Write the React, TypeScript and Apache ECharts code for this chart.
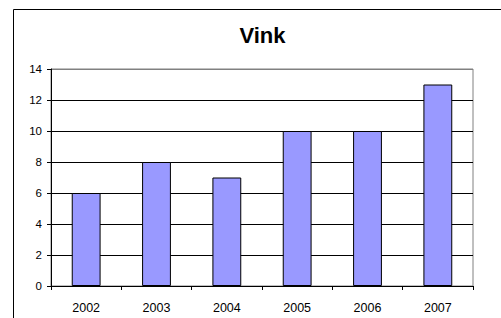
import React, { useEffect, useRef } from "react";
import * as echarts from "echarts";

const categories = ["2002", "2003", "2004", "2005", "2006", "2007"];
const values = [6, 8, 7, 10, 10, 13];
const titleText = "Vink";

const FONT = "'Liberation Sans', Arial, sans-serif";

export default function App() {
  const ref = useRef<HTMLDivElement>(null);
  useEffect(() => {
    if (!ref.current) return;
    const chart = echarts.init(ref.current, null, { renderer: "svg" });
    chart.setOption({
      animation: false,
      backgroundColor: "#ffffff",
      textStyle: { fontFamily: FONT },
      grid: {
        left: 51,
        right: 28,
        top: 69,
        bottom: 32,
        show: true,
        borderColor: "#808080",
        borderWidth: 1,
        containLabel: false,
      },
      xAxis: {
        type: "category",
        data: categories,
        axisLine: { show: true, lineStyle: { color: "#000", width: 1 } },
        axisTick: { show: true, inside: false, length: 4, lineStyle: { color: "#000" } },
        axisLabel: { color: "#000", fontSize: 12.5, fontFamily: FONT, margin: 15 },
        splitLine: { show: false },
      },
      yAxis: {
        type: "value",
        min: 0,
        max: 14,
        interval: 2,
        axisLine: { show: true, lineStyle: { color: "#000", width: 1 } },
        axisTick: { show: true, inside: false, length: 4, lineStyle: { color: "#000" } },
        axisLabel: { color: "#000", fontSize: 11.5, fontFamily: FONT, margin: 9 },
        splitLine: {
          show: true,
          lineStyle: {
            color: ["#000", "#000", "#000", "#000", "#000", "#000", "#000", "#808080"],
            width: 1,
          },
        },
      },
      series: [
        {
          type: "bar",
          data: values,
          barWidth: "41%",
          itemStyle: { color: "#9999FF", borderColor: "#000", borderWidth: 1 },
        },
      ],
      graphic: [
        {
          type: "line",
          shape: { x1: 13.5, y1: 9.5, x2: 501, y2: 9.5 },
          style: { stroke: "#000", lineWidth: 1 },
        },
        {
          type: "line",
          shape: { x1: 13.5, y1: 9.5, x2: 13.5, y2: 318 },
          style: { stroke: "#000", lineWidth: 1 },
        },
        {
          type: "text",
          x: 262.5,
          y: 35.5,
          style: {
            text: titleText,
            font: `bold 22px ${FONT}`,
            fill: "#000",
            textAlign: "center",
            textVerticalAlign: "middle",
          },
        },
      ],
    });
    return () => chart.dispose();
  }, []);
  return (
    <div
      ref={ref}
      style={{ position: "fixed", left: 0, top: 0, width: 501, height: 318 }}
    />
  );
}
